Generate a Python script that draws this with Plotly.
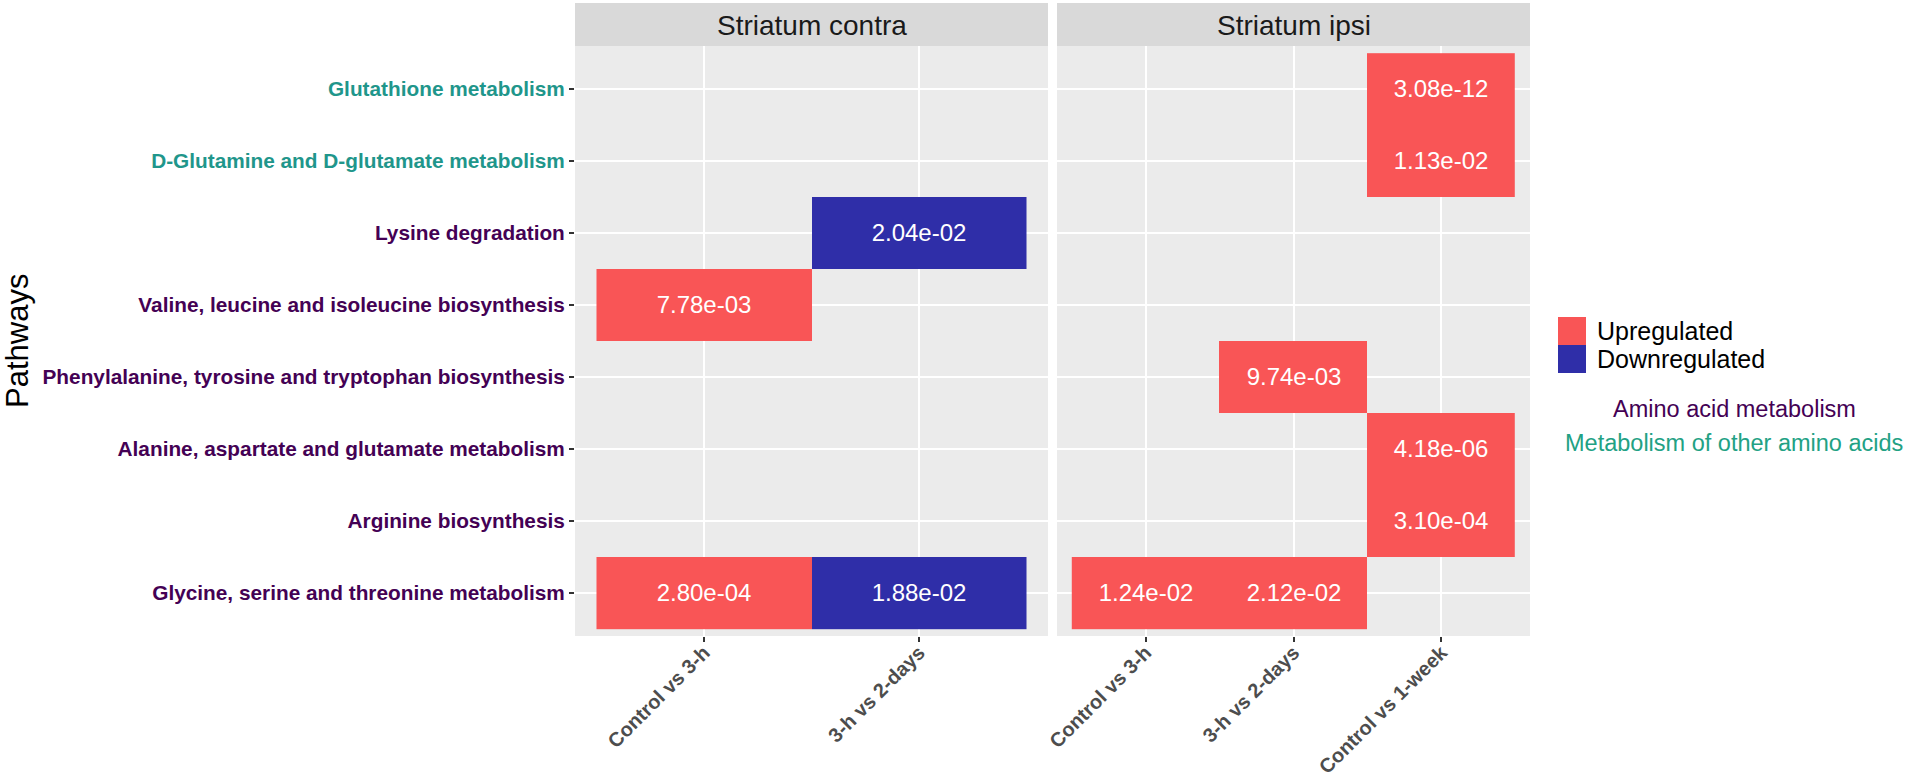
import plotly.graph_objects as go

# Pathways, bottom row first
pathways = [
    "Glycine, serine and threonine metabolism",
    "Arginine biosynthesis",
    "Alanine, aspartate and glutamate metabolism",
    "Phenylalanine, tyrosine and tryptophan biosynthesis",
    "Valine, leucine and isoleucine biosynthesis",
    "Lysine degradation",
    "D-Glutamine and D-glutamate metabolism",
    "Glutathione metabolism",
]
pathway_class = ["Amino acid metabolism"] * 6 + ["Metabolism of other amino acids"] * 2
class_names = ["Amino acid metabolism", "Metabolism of other amino acids"]

contra_comparisons = ["Control vs 3-h", "3-h vs 2-days"]
ipsi_comparisons = ["Control vs 3-h", "3-h vs 2-days", "Control vs 1-week"]

# Striatum contra
contra_pathway = [
    "Valine, leucine and isoleucine biosynthesis",
    "Lysine degradation",
    "Glycine, serine and threonine metabolism",
    "Glycine, serine and threonine metabolism",
]
contra_comparison = ["Control vs 3-h", "3-h vs 2-days", "Control vs 3-h", "3-h vs 2-days"]
contra_pvalue = ["7.78e-03", "2.04e-02", "2.80e-04", "1.88e-02"]
contra_direction = ["Upregulated", "Downregulated", "Upregulated", "Downregulated"]

# Striatum ipsi
ipsi_pathway = [
    "Glutathione metabolism",
    "D-Glutamine and D-glutamate metabolism",
    "Phenylalanine, tyrosine and tryptophan biosynthesis",
    "Alanine, aspartate and glutamate metabolism",
    "Arginine biosynthesis",
    "Glycine, serine and threonine metabolism",
    "Glycine, serine and threonine metabolism",
]
ipsi_comparison = ["Control vs 1-week", "Control vs 1-week", "3-h vs 2-days",
                   "Control vs 1-week", "Control vs 1-week", "Control vs 3-h", "3-h vs 2-days"]
ipsi_pvalue = ["3.08e-12", "1.13e-02", "9.74e-03", "4.18e-06", "3.10e-04", "1.24e-02", "2.12e-02"]
ipsi_direction = ["Upregulated"] * 7

directions = ["Upregulated", "Downregulated"]
direction_colors = {"Upregulated": "#F95556", "Downregulated": "#2F2EA8"}
class_colors = {"Amino acid metabolism": "#440154", "Metabolism of other amino acids": "#1F968B"}
legend_class_colors = {"Amino acid metabolism": "#440154", "Metabolism of other amino acids": "#22A184"}

W, H = 1908, 781


def px(x):
    return x / W


def py(y):
    return 1 - y / H


def build_grid(comparisons, pw, cmp, pv, dr):
    z = [[None] * len(comparisons) for _ in pathways]
    txt = [[""] * len(comparisons) for _ in pathways]
    for p, c, v, d in zip(pw, cmp, pv, dr):
        i = pathways.index(p)
        j = comparisons.index(c)
        z[i][j] = 1 if d == "Upregulated" else 0
        txt[i][j] = v
    return z, txt


colorscale = [[0, direction_colors["Downregulated"]], [0.5, direction_colors["Downregulated"]],
              [0.5, direction_colors["Upregulated"]], [1, direction_colors["Upregulated"]]]

fig = go.Figure()
for comps, data, xa, ya in [
    (contra_comparisons, (contra_pathway, contra_comparison, contra_pvalue, contra_direction), "x", "y"),
    (ipsi_comparisons, (ipsi_pathway, ipsi_comparison, ipsi_pvalue, ipsi_direction), "x2", "y2"),
]:
    z, txt = build_grid(comps, *data)
    fig.add_trace(go.Heatmap(
        x=comps, y=pathways, z=z, text=txt,
        texttemplate="%{text}",
        textfont=dict(color="white", size=24, family="Liberation Sans, Arial"),
        colorscale=colorscale, zmin=0, zmax=1, showscale=False,
        xaxis=xa, yaxis=ya, hoverinfo="skip",
    ))

ticktext = [f"<span style='color:{class_colors[c]}'><b>{p}</b></span>"
            for p, c in zip(pathways, pathway_class)]

tick_style = dict(ticks="outside", ticklen=5, tickwidth=1.5, tickcolor="#333333",
                  showgrid=True, gridcolor="white", gridwidth=2, zeroline=False,
                  showline=False, automargin=False, type="category")
xfont = dict(family="Liberation Sans, Arial", size=20, color="#4D4D4D", weight="bold")

# panel geometry in pixels
p1 = (575, 1048)
p2 = (1057, 1530)
top, bottom = 46, 636

fig.update_layout(
    width=W, height=H,
    margin=dict(l=0, r=0, t=0, b=0),
    paper_bgcolor="white", plot_bgcolor="#EBEBEB",
    showlegend=False,
    font=dict(family="Liberation Sans, Arial"),
    xaxis=dict(domain=[px(p1[0]), px(p1[1])], anchor="y", range=[-0.6, 1.6],
               categoryorder="array", categoryarray=contra_comparisons,
               tickangle=-45, tickfont=xfont, ticklabelstandoff=-9, **tick_style),
    xaxis2=dict(domain=[px(p2[0]), px(p2[1])], anchor="y2", range=[-0.6, 2.6],
                categoryorder="array", categoryarray=ipsi_comparisons,
                tickangle=-45, tickfont=xfont, ticklabelstandoff=-9, **tick_style),
    yaxis=dict(domain=[py(bottom), py(top)], anchor="x", range=[-0.6, 7.6],
               categoryorder="array", categoryarray=pathways,
               tickvals=pathways, ticktext=ticktext,
               tickfont=dict(family="Liberation Sans, Arial", size=20.8), **tick_style),
    yaxis2=dict(domain=[py(bottom), py(top)], anchor="x2", range=[-0.6, 7.6],
                categoryorder="array", categoryarray=pathways, matches="y",
                showticklabels=False, **{**tick_style, "ticks": ""}),
)

shapes = []
annotations = []

# facet strips
for (x0, x1), label in [(p1, "Striatum contra"), (p2, "Striatum ipsi")]:
    shapes.append(dict(type="rect", xref="paper", yref="paper",
                       x0=px(x0), x1=px(x1), y0=py(top), y1=py(3),
                       fillcolor="#D9D9D9", line=dict(width=0), layer="below"))
    annotations.append(dict(xref="paper", yref="paper", x=px((x0 + x1) / 2), y=py(25),
                            text=label, showarrow=False, xanchor="center", yanchor="middle",
                            font=dict(size=28, color="#1A1A1A")))

# y axis title
annotations.append(dict(xref="paper", yref="paper", x=px(17), y=py((top + bottom) / 2),
                        text="Pathways", textangle=-90, showarrow=False,
                        xanchor="center", yanchor="middle",
                        font=dict(size=31, color="black")))

# fill legend
key_top = 317
for k, d in enumerate(directions):
    y0 = key_top + 28 * k
    shapes.append(dict(type="rect", xref="paper", yref="paper",
                       x0=px(1558), x1=px(1586), y0=py(y0 + 28), y1=py(y0),
                       fillcolor=direction_colors[d], line=dict(width=0)))
    annotations.append(dict(xref="paper", yref="paper", x=px(1595), y=py(y0 + 14),
                            text=d, showarrow=False, xanchor="left", yanchor="middle",
                            font=dict(size=25, color="black")))

# pathway class legend
for k, c in enumerate(class_names):
    annotations.append(dict(xref="paper", yref="paper", x=px(1734), y=py(409 + 34 * k),
                            text=c, showarrow=False, xanchor="center", yanchor="middle",
                            font=dict(size=23.5, color=legend_class_colors[c])))

fig.update_layout(shapes=shapes, annotations=annotations)

# drop the default page margin so the figure fills the window exactly
fig.write_html("out.html", config={"displayModeBar": False},
               post_script="document.body.style.margin='0';document.body.style.overflow='hidden';")
